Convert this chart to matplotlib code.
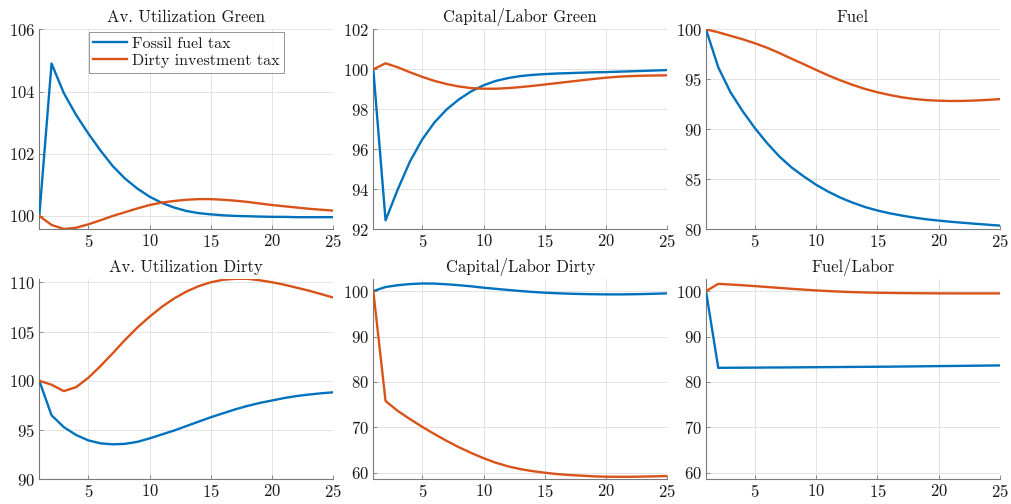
import numpy as np
import matplotlib
matplotlib.use("Agg")
import matplotlib.pyplot as plt

plt.rcParams["font.family"] = ["cmr10", "DejaVu Serif"]
plt.rcParams["axes.formatter.use_mathtext"] = True

t = np.arange(1, 26)

# Av. Utilization Green
util_green_fuel = [100.0, 104.9, 103.95, 103.25, 102.65, 102.1, 101.6, 101.2, 100.88, 100.62,
                   100.42, 100.27, 100.16, 100.09, 100.05, 100.02, 100.0, 99.99, 99.98, 99.97,
                   99.97, 99.96, 99.96, 99.96, 99.96]
util_green_inv = [100.0, 99.71, 99.58, 99.62, 99.73, 99.86, 100.0, 100.12, 100.24, 100.35,
                  100.43, 100.48, 100.52, 100.54, 100.54, 100.52, 100.49, 100.45, 100.4, 100.35,
                  100.31, 100.27, 100.23, 100.2, 100.17]

# Capital/Labor Green
kl_green_fuel = [100.0, 92.45, 94.0, 95.4, 96.5, 97.35, 98.0, 98.5, 98.9, 99.2,
                 99.42, 99.56, 99.66, 99.72, 99.76, 99.79, 99.81, 99.83, 99.85, 99.86,
                 99.88, 99.9, 99.92, 99.94, 99.96]
kl_green_inv = [100.0, 100.3, 100.1, 99.85, 99.62, 99.42, 99.26, 99.14, 99.06, 99.03,
                99.03, 99.06, 99.11, 99.17, 99.24, 99.31, 99.38, 99.45, 99.52, 99.58,
                99.63, 99.66, 99.68, 99.69, 99.7]

# Fuel
fuel_fuel = [100.0, 96.2, 93.7, 91.8, 90.1, 88.6, 87.27, 86.17, 85.27, 84.45,
             83.75, 83.15, 82.65, 82.22, 81.88, 81.6, 81.37, 81.17, 81.0, 80.87,
             80.75, 80.65, 80.55, 80.46, 80.37]
fuel_inv = [100.0, 99.7, 99.35, 99.0, 98.6, 98.15, 97.62, 97.05, 96.5, 95.93,
            95.38, 94.88, 94.43, 94.03, 93.7, 93.43, 93.2, 93.03, 92.92, 92.86,
            92.83, 92.84, 92.88, 92.94, 93.02]

# Av. Utilization Dirty
util_dirty_fuel = [100.0, 96.5, 95.3, 94.5, 93.95, 93.65, 93.55, 93.6, 93.8, 94.15,
                   94.55, 94.95, 95.4, 95.85, 96.3, 96.7, 97.1, 97.45, 97.75, 98.0,
                   98.25, 98.45, 98.6, 98.73, 98.83]
util_dirty_inv = [100.0, 99.6, 98.95, 99.35, 100.3, 101.5, 102.8, 104.15, 105.4, 106.5,
                  107.5, 108.35, 109.05, 109.6, 110.0, 110.25, 110.35, 110.35, 110.2, 110.0,
                  109.75, 109.45, 109.15, 108.8, 108.45]

# Capital/Labor Dirty
kl_dirty_fuel = [100.0, 100.9, 101.3, 101.55, 101.68, 101.65, 101.5, 101.3, 101.05, 100.75,
                 100.5, 100.25, 100.02, 99.82, 99.65, 99.53, 99.43, 99.36, 99.31, 99.28,
                 99.27, 99.3, 99.35, 99.42, 99.5]
kl_dirty_inv = [100.0, 75.8, 73.6, 71.8, 70.1, 68.5, 67.0, 65.6, 64.35, 63.2,
                62.2, 61.4, 60.8, 60.35, 60.0, 59.7, 59.5, 59.35, 59.2, 59.12,
                59.1, 59.1, 59.15, 59.2, 59.27]

# Fuel/Labor
fl_fuel = [100.0, 83.1, 83.12, 83.13, 83.15, 83.17, 83.18, 83.2, 83.22, 83.24,
           83.26, 83.28, 83.3, 83.32, 83.34, 83.36, 83.39, 83.42, 83.45, 83.48,
           83.51, 83.54, 83.57, 83.6, 83.63]
fl_inv = [100.0, 101.6, 101.45, 101.28, 101.1, 100.9, 100.7, 100.5, 100.32, 100.15,
          100.0, 99.88, 99.78, 99.7, 99.64, 99.6, 99.56, 99.54, 99.52, 99.5,
          99.5, 99.49, 99.49, 99.49, 99.49]

titles = ["Av. Utilization Green", "Capital/Labor Green", "Fuel",
          "Av. Utilization Dirty", "Capital/Labor Dirty", "Fuel/Labor"]
series = [(util_green_fuel, util_green_inv), (kl_green_fuel, kl_green_inv),
          (fuel_fuel, fuel_inv), (util_dirty_fuel, util_dirty_inv),
          (kl_dirty_fuel, kl_dirty_inv), (fl_fuel, fl_inv)]
ylims = [(99.57, 106), (92, 102), (80, 100), (90, 110.3), (58.55, 102.6), (58.55, 102.6)]
yticks = [[100, 102, 104, 106], [92, 94, 96, 98, 100, 102], [80, 85, 90, 95, 100],
          [90, 95, 100, 105, 110], [60, 70, 80, 90, 100], [60, 70, 80, 90, 100]]
labels = ["Fossil fuel tax", "Dirty investment tax"]
colors = ["#0072BD", "#D95319"]

W, H = 1012, 504
lefts = [39.3, 373.3, 706.0]
tops = [29.3, 279.3]
aw, ah = 294.0, 200.0

fig = plt.figure(figsize=(W / 100, H / 100), dpi=100)
for i in range(6):
    r, c = divmod(i, 3)
    ax = fig.add_axes([lefts[c] / W, 1 - (tops[r] + ah) / H, aw / W, ah / H])
    for k in range(2):
        ax.plot(t, series[i][k], color=colors[k], lw=1.7, label=labels[k], zorder=3)
    ax.set_xlim(1, 25)
    ax.set_ylim(*ylims[i])
    ax.set_xticks([5, 10, 15, 20, 25])
    ax.set_yticks(yticks[i])
    ax.grid(True, color="#e3e3e3", lw=0.7)
    ax.set_axisbelow(True)
    for s in ["top", "right"]:
        ax.spines[s].set_visible(False)
    for s in ["left", "bottom"]:
        ax.spines[s].set_color("#7a7a7a")
        ax.spines[s].set_linewidth(0.8)
    ax.tick_params(direction="in", length=3, width=0.6, color="#7a7a7a",
                   labelsize=12, labelcolor="#1a1a1a", pad=3)
    ax.set_title(titles[i], fontsize=12, color="#1a1a1a", pad=5)
    if i == 0:
        leg = ax.legend(loc="upper left", bbox_to_anchor=(0.168, 0.988), fontsize=11.5,
                        frameon=True, fancybox=False, handlelength=2.1,
                        borderpad=0.3, labelspacing=0.2, handletextpad=0.3,
                        borderaxespad=0)
        leg.get_frame().set_edgecolor("#7a7a7a")
        leg.get_frame().set_linewidth(0.7)
        for txt in leg.get_texts():
            txt.set_color("#1a1a1a")

fig.savefig("out.png", dpi=100)
